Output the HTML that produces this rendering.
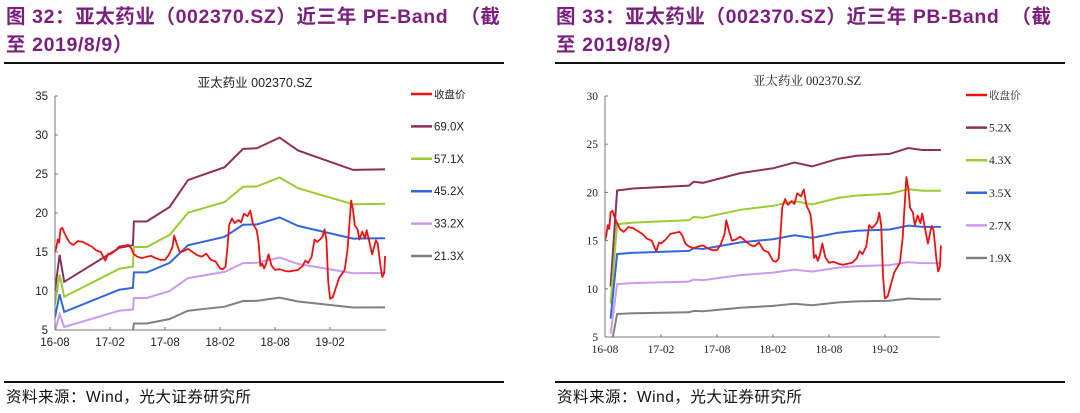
<!DOCTYPE html>
<html><head><meta charset="utf-8"><style>
body{margin:0;background:#fff;width:1080px;height:413px;overflow:hidden;position:relative;font-family:"Liberation Sans","Noto Sans CJK SC",sans-serif}
.hd{position:absolute;color:#7a1f7e;font-weight:bold;font-size:19.5px;line-height:28px;letter-spacing:0.6px;white-space:nowrap}
.rule{position:absolute;height:2px;background:#111}
.src{position:absolute;font-size:15.5px;color:#111;letter-spacing:0.5px}
svg{position:absolute;left:0;top:0}
</style></head><body>
<div class="hd" style="left:6px;top:3px;width:510px">图 32：亚太药业（002370.SZ）近三年 PE-Band &nbsp;（截<br>至 2019/8/9）</div>
<div class="hd" style="left:556px;top:3px;width:520px">图 33：亚太药业（002370.SZ）近三年 PB-Band &nbsp;（截<br>至 2019/8/9）</div>
<div class="rule" style="left:4px;top:62px;width:500px"></div>
<div class="rule" style="left:555px;top:62px;width:510px"></div>
<div class="rule" style="left:4px;top:381px;width:500px;height:1.5px"></div>
<div class="rule" style="left:555px;top:381px;width:510px;height:1.5px"></div>
<div class="src" style="left:6px;top:385px">资料来源：Wind，光大证券研究所</div>
<div class="src" style="left:557px;top:385px">资料来源：Wind，光大证券研究所</div>
<svg id="chart" width="1080" height="413"></svg>
<script>
const xTickLabels=["16-08","17-02","17-08","18-02","18-08","19-02"];
const xTickMonths=[0,6,12,18,24,30];
const priceMonths=[0,0.15,0.3,0.45,0.6,0.8,1,1.3,1.6,2,2.5,3,3.5,4,4.5,5,5.3,5.5,5.8,6,6.5,7,7.5,8,8.3,8.6,9,9.5,10,10.5,11,11.5,12,12.4,12.8,13,13.3,13.6,14,14.5,15,15.5,16,16.5,17,17.5,18,18.3,18.6,18.8,19,19.3,19.6,20,20.3,20.6,21,21.3,21.6,22,22.2,22.4,22.6,22.8,23,23.3,23.6,24,24.5,25,25.5,26,26.5,27,27.3,27.6,28,28.3,28.6,29,29.2,29.4,29.6,29.8,30,30.3,30.6,31,31.3,31.6,31.9,32.1,32.3,32.5,32.7,33,33.2,33.5,33.8,34,34.3,34.6,35,35.2,35.5,35.7,35.9,36];
const priceValues=[15.0,15.6,16.6,16.2,17.9,18.1,17.5,16.8,16.2,15.9,16.4,16.3,16.0,15.7,15.2,15.0,14.3,13.9,14.8,14.7,15.1,15.7,15.8,15.9,15.5,14.7,14.4,14.2,14.4,14.5,14.2,14.0,14.0,14.6,15.6,17.1,16.0,15.0,15.1,15.4,15.0,14.6,14.4,14.8,14.0,13.8,12.9,12.8,13.1,15.5,18.5,19.3,18.7,19.1,18.8,19.9,19.6,20.3,18.6,17.8,16.2,13.2,13.5,12.9,13.4,14.7,13.3,12.7,12.8,12.6,12.5,12.6,12.7,13.2,13.9,13.6,14.4,16.6,16.3,16.7,17.0,17.9,16.6,11.2,9.0,9.2,10.3,11.7,12.2,12.7,15.3,18.4,21.6,20.4,18.4,17.9,16.6,17.6,16.8,17.8,16.2,14.7,16.5,16.1,13.2,11.8,12.3,14.5,13.2];
const peMonths=[0,0.5,1,7,8.5,8.6,10,12.5,14.5,18.5,20.5,22,24.5,26.5,32.5,36];
const peEps=[0.146,0.212,0.162,0.225,0.230,0.274,0.274,0.301,0.351,0.375,0.409,0.410,0.430,0.406,0.370,0.371];
const peMultiples=[69.0,57.1,45.2,33.2,21.3];
const peLabels=["69.0X","57.1X","45.2X","33.2X","21.3X"];
const pbMonths=[0.6,1.3,3,9,9.5,10.5,14.5,18,20.3,22.2,25,27,30.5,32.5,34,36];
const pbBvps=[1.971,3.885,3.923,3.981,4.058,4.038,4.231,4.327,4.442,4.365,4.519,4.577,4.615,4.731,4.692,4.692];
const pbMultiples=[5.2,4.3,3.5,2.7,1.9];
const pbLabels=["5.2X","4.3X","3.5X","2.7X","1.9X"];
const yTicksPE=[5,10,15,20,25,30,35];
const yTicksPB=[5,10,15,20,25,30];
const bandColors=["#8b2f5c","#99cc33","#3366dd","#cc99ee","#808080"];
const NS="http://www.w3.org/2000/svg";
const svg=document.getElementById('chart');
function mk(t,a,p){const e=document.createElementNS(NS,t);for(const k in a)e.setAttribute(k,a[k]);(p||svg).appendChild(e);return e;}
function draw(cfg){
  const g=mk('g',{});
  
  
  const X=m=>cfg.x0+m*(cfg.x1-cfg.x0)/cfg.mMax;
  const Y=v=>cfg.yb-(v-cfg.vmin)*(cfg.yb-cfg.yt)/(cfg.vmax-cfg.vmin);
  const cid='clip'+cfg.name;
  const cp=mk('clipPath',{id:cid},g);mk('rect',{x:cfg.x0,y:cfg.yt-5,width:cfg.x1-cfg.x0+2,height:cfg.yb-cfg.yt+5},cp);
  const t=mk('text',{x:cfg.tx,y:cfg.ty,'text-anchor':'middle','font-size':cfg.fs+1,'font-family':cfg.font,fill:'#222'},g);
  t.textContent='亚太药业 002370.SZ';
  
  
  cfg.mult.forEach((mu,i)=>{
    const d=cfg.bm.map((m,j)=>(j?'L':'M')+X(m).toFixed(1)+','+Y(cfg.base[j]*mu).toFixed(1)).join('');
    const p=mk('path',{d:d,fill:'none',stroke:bandColors[i],'stroke-width':2,'clip-path':'url(#'+cid+')'},g);
    
    
  });
  const d=priceMonths.map((m,j)=>(j?'L':'M')+X(m).toFixed(1)+','+Y(priceValues[j]).toFixed(1)).join('');
  const pp=mk('path',{d:d,fill:'none',stroke:'#ee1111','stroke-width':1.8,'stroke-linejoin':'round','clip-path':'url(#'+cid+')'},g);
  
  
  const ya=mk('line',{x1:cfg.x0,y1:cfg.yt,x2:cfg.x0,y2:cfg.yb,stroke:'#777','stroke-width':1},g);
  
  
  const xa=mk('line',{x1:cfg.x0,y1:cfg.yb,x2:cfg.x1,y2:cfg.yb,stroke:'#777','stroke-width':1},g);
  
  
  cfg.yticks.forEach(v=>{
    mk('line',{x1:cfg.x0,y1:Y(v),x2:cfg.x0+3,y2:Y(v),stroke:'#777'},g);
    const l=mk('text',{x:cfg.x0-7,y:Y(v)+4,'text-anchor':'end','font-size':cfg.fs,'font-family':cfg.font,fill:'#222'},g);
    l.textContent=v;
    
    
  });
  xTickMonths.forEach((m,i)=>{
    mk('line',{x1:X(m),y1:cfg.yb,x2:X(m),y2:cfg.yb-3,stroke:'#777'},g);
    const l=mk('text',{x:X(m),y:cfg.yb+16,'text-anchor':'middle','font-size':cfg.fs,'font-family':cfg.font,fill:'#222'},g);
    l.textContent=xTickLabels[i];
    
    
  });
  const names=['收盘价'].concat(cfg.labels), cols=['#ee1111'].concat(bandColors);
  names.forEach((n,i)=>{
    const y=cfg.ly+i*cfg.lstep;
    const lg=mk('g',{},g);
    
    
    mk('line',{x1:cfg.lx,y1:y,x2:cfg.lx+21,y2:y,stroke:cols[i],'stroke-width':2.5},lg);
    const tt=mk('text',{x:cfg.lx+23,y:y+4,'font-size':i?cfg.fs:cfg.fs-1,'font-family':cfg.font,fill:'#222'},lg);
    tt.textContent=n;
  });
}
draw({name:'pe-band-chart',x0:55,x1:386,mMax:36.1,yt:96,yb:330,vmin:5,vmax:35,bm:peMonths,base:peEps,mult:peMultiples,labels:peLabels,yticks:yTicksPE,
  tx:255,ty:87,fs:11.5,font:'"Liberation Sans","Noto Sans CJK SC",sans-serif',lx:411,ly:94,lstep:32.4});
draw({name:'pb-band-chart',x0:605,x1:940,mMax:35.9,yt:96,yb:337,vmin:5,vmax:30,bm:pbMonths,base:pbBvps,mult:pbMultiples,labels:pbLabels,yticks:yTicksPB,
  tx:807,ty:85,fs:11.5,font:'"Liberation Serif","Noto Serif CJK SC",serif',lx:966,ly:95,lstep:32.6});
</script>
</body></html>
